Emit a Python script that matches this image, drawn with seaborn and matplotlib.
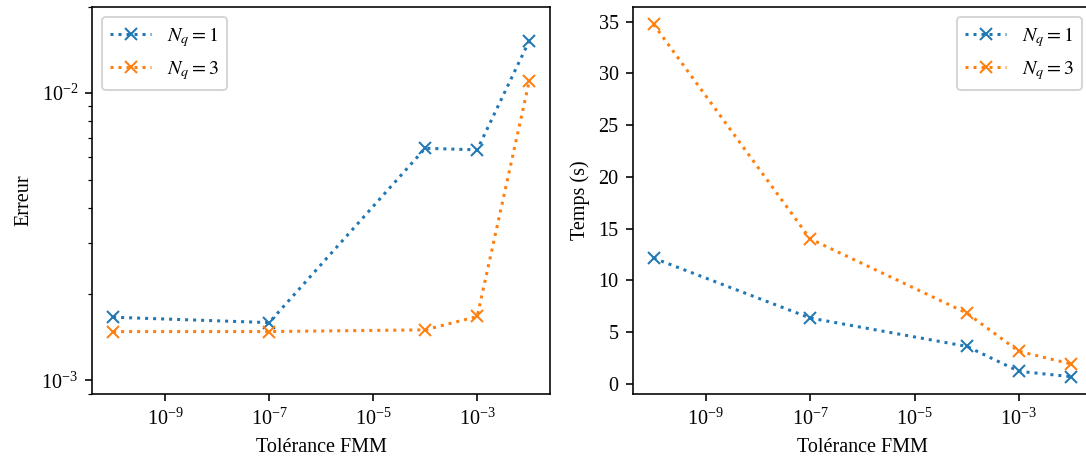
import matplotlib
matplotlib.use("Agg")
import matplotlib.pyplot as plt
import seaborn as sns
import pandas as pd

tolerances = [1e-10, 1e-7, 1e-4, 1e-3, 1e-2]
series_labels = [r"$N_q = 1$", r"$N_q = 3$"]
erreur_nq1 = [1.66e-3, 1.59e-3, 6.43e-3, 6.35e-3, 1.52e-2]
erreur_nq3 = [1.48e-3, 1.48e-3, 1.50e-3, 1.67e-3, 1.10e-2]
temps_nq1 = [12.16, 6.37, 3.63, 1.22, 0.70]
temps_nq3 = [34.75, 14.02, 6.85, 3.15, 1.93]

plt.rcParams["font.family"] = ["Liberation Serif", "DejaVu Serif"]
plt.rcParams["mathtext.fontset"] = "stix"
plt.rcParams["font.size"] = 10

df = pd.DataFrame({
    "tol": tolerances * 2,
    "serie": [series_labels[0]] * 5 + [series_labels[1]] * 5,
    "erreur": erreur_nq1 + erreur_nq3,
    "temps": temps_nq1 + temps_nq3,
})
palette = ["#1f77b4", "#ff7f0e"]

dpi = 145
fig = plt.figure(figsize=(1086 / dpi, 459 / dpi), dpi=dpi)
W, H = 1086, 459
ax1 = fig.add_axes([92.3 / W, (H - 394.3) / H, (550 - 92.3) / W, (394.3 - 6.7) / H])
ax2 = fig.add_axes([632.7 / W, (H - 394.3) / H, (1092 - 632.7) / W, (394.3 - 6.7) / H])

for ax, col in [(ax1, "erreur"), (ax2, "temps")]:
    sns.lineplot(data=df, x="tol", y=col, hue="serie", palette=palette,
                 marker="x", markersize=6, linestyle=":", markeredgewidth=1.0,
                 ax=ax, errorbar=None, sort=False, legend=False)
    for ln in ax.lines:
        ln.set_markeredgecolor(ln.get_color())
    ax.set_xscale("log")
    ax.set_xlabel("Tolérance FMM")
    ax.xaxis.set_minor_locator(matplotlib.ticker.NullLocator())

ax1.set_yscale("log")
ax1.set_ylim(8.95e-4, 2e-2)
ax1.set_ylabel("Erreur")
ax2.set_ylabel("Temps (s)")

ax1.legend(handles=ax1.lines[:2], labels=series_labels, loc="upper left")
ax2.legend(handles=ax2.lines[:2], labels=series_labels, loc="upper right")

fig.savefig("out.png", dpi=dpi)
